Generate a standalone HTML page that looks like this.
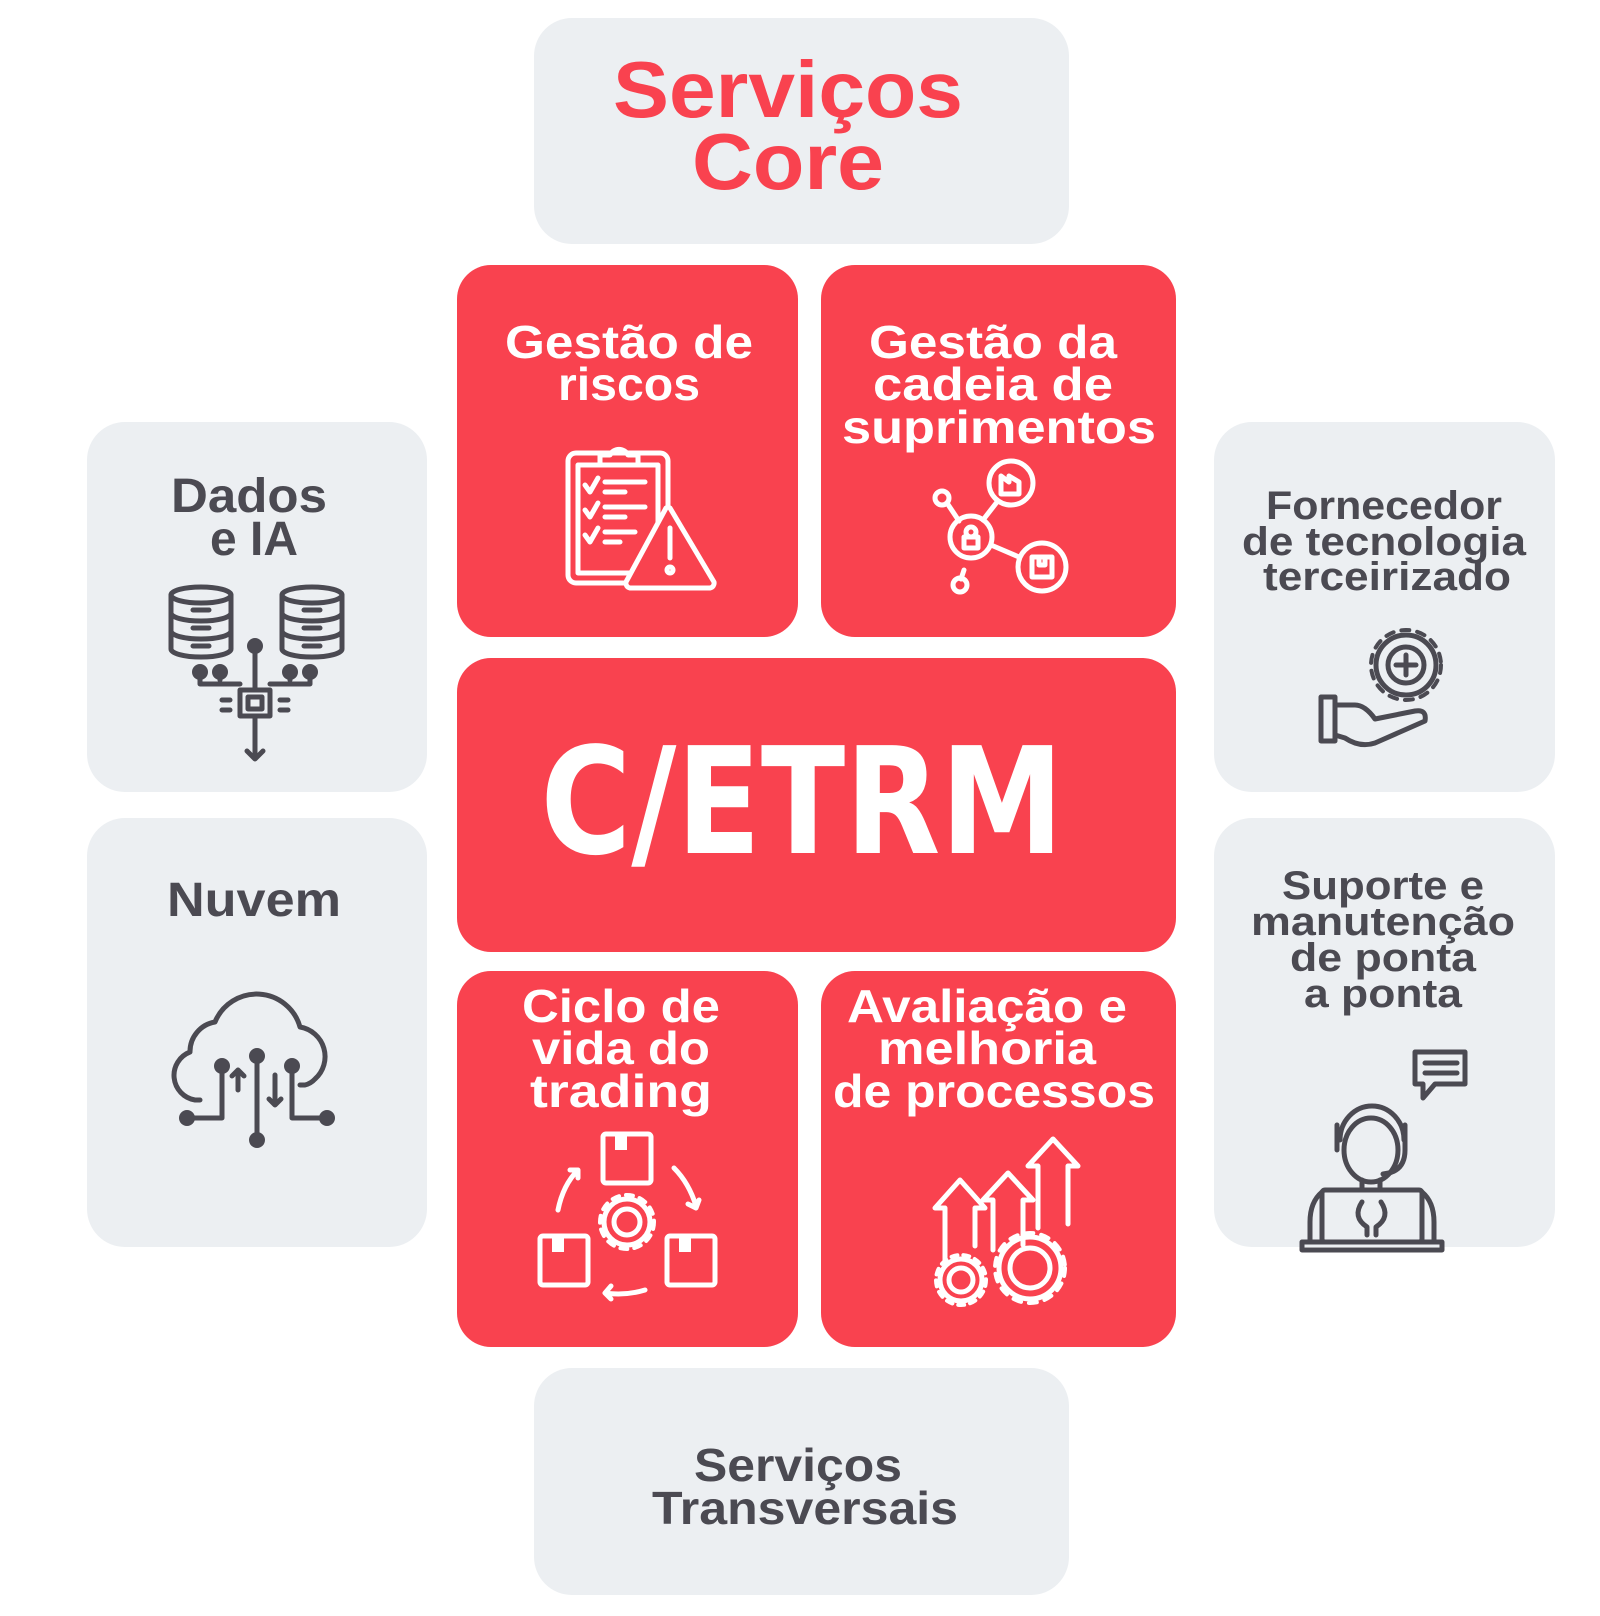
<!DOCTYPE html>
<html><head><meta charset="utf-8"><style>
html,body{margin:0;padding:0;background:#fff;}
svg{display:block}
text{font-family:"Liberation Sans",Arial,sans-serif;font-weight:bold;text-anchor:middle}
</style></head><body>
<svg width="1600" height="1616" viewBox="0 0 1600 1616" xmlns="http://www.w3.org/2000/svg">
<!-- gray boxes -->
<g fill="#ECEFF2">
<rect x="534" y="18" width="535" height="226" rx="38"/>
<rect x="534" y="1368" width="535" height="227" rx="38"/>
<rect x="87" y="422" width="340" height="370" rx="38"/>
<rect x="87" y="818" width="340" height="429" rx="38"/>
<rect x="1214" y="422" width="341" height="370" rx="38"/>
<rect x="1214" y="818" width="341" height="429" rx="38"/>
</g>
<!-- red boxes -->
<g fill="#F9424F">
<rect x="457" y="265" width="341" height="372" rx="34"/>
<rect x="821" y="265" width="355" height="372" rx="34"/>
<rect x="457" y="658" width="719" height="294" rx="34"/>
<rect x="457" y="971" width="341" height="376" rx="34"/>
<rect x="821" y="971" width="355" height="376" rx="34"/>
</g>

<!-- texts -->
<g fill="#F9424F" font-size="80">
<text x="788" y="117" textLength="350" lengthAdjust="spacingAndGlyphs">Serviços</text>
<text x="788" y="189" textLength="192" lengthAdjust="spacingAndGlyphs">Core</text>
</g>
<g fill="#fff" font-size="46">
<text x="629" y="358" textLength="248" lengthAdjust="spacingAndGlyphs">Gestão de</text>
<text x="629" y="400" textLength="142" lengthAdjust="spacingAndGlyphs">riscos</text>
<text x="993" y="358" textLength="248" lengthAdjust="spacingAndGlyphs">Gestão da</text>
<text x="993" y="400" textLength="240" lengthAdjust="spacingAndGlyphs">cadeia de</text>
<text x="999" y="443" textLength="314" lengthAdjust="spacingAndGlyphs">suprimentos</text>
<text x="621" y="1022" textLength="198" lengthAdjust="spacingAndGlyphs">Ciclo de</text>
<text x="621" y="1064" textLength="178" lengthAdjust="spacingAndGlyphs">vida do</text>
<text x="621" y="1107" textLength="182" lengthAdjust="spacingAndGlyphs">trading</text>
<text x="987" y="1022" textLength="280" lengthAdjust="spacingAndGlyphs">Avaliação e</text>
<text x="987" y="1064" textLength="218" lengthAdjust="spacingAndGlyphs">melhoria</text>
<text x="994" y="1107" textLength="322" lengthAdjust="spacingAndGlyphs">de processos</text>
</g>
<text x="802" y="853" fill="#fff" font-size="148" style="font-weight:bold;font-family:'DejaVu Sans','Liberation Sans',sans-serif" textLength="523" lengthAdjust="spacingAndGlyphs">C/ETRM</text>
<g fill="#4B4A52">
<text x="249" y="512" font-size="48" textLength="156" lengthAdjust="spacingAndGlyphs">Dados</text>
<text x="254" y="555" font-size="48" textLength="88" lengthAdjust="spacingAndGlyphs">e IA</text>
<text x="254" y="916" font-size="48" textLength="174" lengthAdjust="spacingAndGlyphs">Nuvem</text>
<g font-size="40">
<text x="1384" y="519" textLength="236" lengthAdjust="spacingAndGlyphs">Fornecedor</text>
<text x="1384" y="555" textLength="284" lengthAdjust="spacingAndGlyphs">de tecnologia</text>
<text x="1387" y="590" textLength="248" lengthAdjust="spacingAndGlyphs">terceirizado</text>
<text x="1383" y="899" textLength="202" lengthAdjust="spacingAndGlyphs">Suporte e</text>
<text x="1383" y="935" textLength="264" lengthAdjust="spacingAndGlyphs">manutenção</text>
<text x="1383" y="971" textLength="186" lengthAdjust="spacingAndGlyphs">de ponta</text>
<text x="1383" y="1007" textLength="158" lengthAdjust="spacingAndGlyphs">a ponta</text>
</g>
<text x="798" y="1481" font-size="46" textLength="208" lengthAdjust="spacingAndGlyphs">Serviços</text>
<text x="805" y="1524" font-size="46" textLength="306" lengthAdjust="spacingAndGlyphs">Transversais</text>
</g>

<!-- white icons -->
<g fill="none" stroke="#fff" stroke-width="5" stroke-linecap="round" stroke-linejoin="round">
<!-- clipboard -->
<rect x="568" y="453" width="100" height="130" rx="8"/>
<rect x="578" y="465" width="80" height="108"/>
<path d="M600 465 v-10 h10 a10 10 0 0 1 18 0 h10 v10 z"/>
<path d="M585 485 l5 7 l8 -14 M605 482 h40 M605 492 h20 M585 510 l5 7 l8 -14 M605 507 h40 M605 517 h20 M585 535 l5 7 l8 -14 M605 532 h30 M605 542 h15"/>
<path d="M670 508 l44 74 a5 5 0 0 1 -4 6 h-80 a5 5 0 0 1 -4 -6 l40 -74 a3 3 0 0 1 4 0 z" fill="#F9424F"/>
<path d="M670 528 v30"/><circle cx="670" cy="570" r="3"/>
<!-- network -->
<circle cx="1011" cy="483" r="22"/>
<path d="M1001 494 v-18 l8 6 v-6 l10 6 v12 z"/>
<circle cx="1042" cy="567" r="24"/>
<rect x="1032" y="557" width="20" height="20"/><path d="M1039 557 v8 h6 v-8"/>
<circle cx="971" cy="537" r="21"/>
<circle cx="971" cy="532" r="5"/><rect x="964" y="537" width="14" height="11"/>
<circle cx="942" cy="498" r="7"/><circle cx="960" cy="585" r="7"/>
<path d="M947 503 l12 18 M964 570 l-3 9 M983 520 l14 -18 M991 545 l28 12"/>
<!-- cycle -->
<rect x="603" y="1134" width="48" height="49" rx="3"/>
<rect x="540" y="1236" width="48" height="49" rx="3"/>
<rect x="667" y="1236" width="48" height="49" rx="3"/>
<path d="M558 1210 q5 -25 20 -40 m-8 0 h8 v8 M674 1168 q15 15 22 38 m-8 -2 l8 4 l3 -8 M645 1290 q-20 6 -40 3 m6 -7 l-6 7 l6 6"/>
<circle cx="627" cy="1222" r="13"/>
<circle cx="627" cy="1222" r="27" stroke-width="4" stroke-dasharray="7 7"/>
<circle cx="627" cy="1222" r="23"/>
<!-- arrows & gears -->
<path d="M945 1260 v-52 h-10 l25 -28 l25 28 h-10 v38 M993 1250 v-50 h-10 l25 -27 l25 27 h-10 v45 M1038 1228 v-62 h-10 l25 -27 l25 27 h-10 v58"/>
<circle cx="961" cy="1280" r="12"/><circle cx="961" cy="1280" r="21"/><circle cx="961" cy="1280" r="25" stroke-width="4" stroke-dasharray="6 6"/>
<circle cx="1030" cy="1268" r="20"/><circle cx="1030" cy="1268" r="31"/><circle cx="1030" cy="1268" r="35" stroke-width="4" stroke-dasharray="8 8"/>
</g>
<g fill="#fff"><rect x="615" y="1134" width="12" height="16"/><rect x="552" y="1236" width="12" height="16"/><rect x="679" y="1236" width="12" height="16"/></g>

<!-- dark icons -->
<g fill="none" stroke="#4B4A52" stroke-width="5" stroke-linecap="round" stroke-linejoin="round">
<!-- databases -->
<ellipse cx="201" cy="595" rx="30" ry="8"/>
<path d="M171 595 v54 a30 8 0 0 0 60 0 v-54 M171 613 a30 8 0 0 0 60 0 M171 631 a30 8 0 0 0 60 0"/>
<path d="M193 610 h16 M193 628 h16 M193 646 h16"/>
<ellipse cx="312" cy="595" rx="30" ry="8"/>
<path d="M282 595 v54 a30 8 0 0 0 60 0 v-54 M282 613 a30 8 0 0 0 60 0 M282 631 a30 8 0 0 0 60 0"/>
<path d="M304 610 h16 M304 628 h16 M304 646 h16"/>
<rect x="240" y="690" width="30" height="26"/><rect x="248" y="697" width="14" height="12"/>
<path d="M255 648 v42 M255 716 v42 m-8 -7 l8 8 l8 -8 M200 674 v10 h40 M220 674 v6 M310 674 v10 h-40 M290 674 v6 M230 700 h-8 M230 710 h-8 M280 700 h8 M280 710 h8"/>
<g fill="#4B4A52" stroke="none"><circle cx="255" cy="646" r="8"/><circle cx="200" cy="672" r="8"/><circle cx="220" cy="672" r="8"/><circle cx="290" cy="672" r="8"/><circle cx="310" cy="672" r="8"/></g>
<!-- cloud -->
<path d="M200 1100 h-5 a25 25 0 0 1 -5 -48 a30 30 0 0 1 25 -30 a45 45 0 0 1 85 5 a30 30 0 0 1 15 52 a20 20 0 0 1 -10 6 h-5"/>
<path d="M222 1070 v48 h-30 M238 1090 v-20 m-6 6 l6 -6 l6 6 M257 1060 v80 M275 1075 v30 m-6 -6 l6 6 l6 -6 M292 1070 v48 h30"/>
<g fill="#4B4A52" stroke="none"><circle cx="222" cy="1066" r="8"/><circle cx="257" cy="1056" r="8"/><circle cx="292" cy="1066" r="8"/><circle cx="187" cy="1118" r="8"/><circle cx="327" cy="1118" r="8"/><circle cx="257" cy="1140" r="8"/></g>
<!-- gear hand -->
<circle cx="1406" cy="665" r="18"/><circle cx="1406" cy="665" r="30"/><circle cx="1406" cy="665" r="35" stroke-width="4" stroke-dasharray="8 8"/>
<path d="M1406 655 v20 M1396 665 h20"/>
<rect x="1321" y="697" width="14" height="44"/>
<path d="M1335 705 h20 q10 0 20 14 l40 -8 q12 -2 10 10 l-50 22 q-15 5 -30 -5 l-10 -3"/>
<!-- support -->
<ellipse cx="1371" cy="1150" rx="27" ry="32"/>
<path d="M1340 1140 a32 34 0 0 1 64 0 M1337 1125 v25 M1405 1125 v25 M1405 1150 q0 22 -22 24"/>
<path d="M1362 1180 v10 M1380 1180 v10"/>
<rect x="1322" y="1190" width="100" height="52" rx="3"/>
<path d="M1310 1242 v-20 q0 -20 12 -30 M1434 1242 v-20 q0 -20 -12 -30 M1302 1242 h140 v8 h-140 z"/>
<path d="M1362 1202 q-10 15 5 25 v8 M1381 1202 q10 15 -5 25 v8"/>
<path d="M1415 1052 h50 v32 h-30 l-12 14 v-14 h-8 z M1425 1063 h32 M1425 1073 h32"/>
</g>
</svg>
</body></html>
